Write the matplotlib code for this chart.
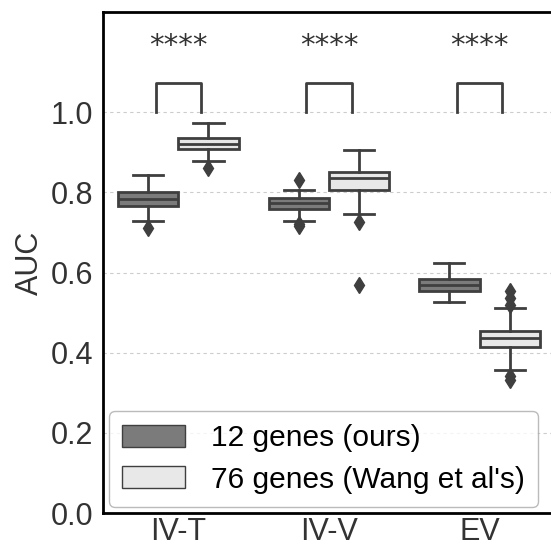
import matplotlib
matplotlib.use("Agg")
import matplotlib.pyplot as plt
from matplotlib.patches import Patch

plt.rcParams['font.family'] = ['Liberation Sans', 'DejaVu Sans']

# data
categories = ["IV-T", "IV-V", "EV"]
series = ["12 genes (ours)", "76 genes (Wang et al's)"]

ours_q1 = [0.766, 0.758, 0.555]
ours_med = [0.783, 0.773, 0.570]
ours_q3 = [0.801, 0.786, 0.584]
ours_lo = [0.728, 0.728, 0.526]
ours_hi = [0.843, 0.805, 0.624]
ours_fliers = [[0.71], [0.832, 0.722, 0.716], []]

wang_q1 = [0.908, 0.805, 0.413]
wang_med = [0.921, 0.835, 0.437]
wang_q3 = [0.935, 0.852, 0.455]
wang_lo = [0.878, 0.745, 0.356]
wang_hi = [0.972, 0.906, 0.512]
wang_fliers = [[0.862], [0.726, 0.57], [0.553, 0.537, 0.52, 0.341, 0.333]]

stars = ["****", "****", "****"]

colors = ["#7b7b7b", "#e8e8e8"]
edge = "#3f3f3f"


def make_stats(q1, med, q3, lo, hi, fl):
    return [dict(q1=a, med=b, q3=c, whislo=d, whishi=e, fliers=f)
            for a, b, c, d, e, f in zip(q1, med, q3, lo, hi, fl)]


fig = plt.figure(figsize=(5.51, 5.46), dpi=100)
ax = fig.add_axes([0.187, 0.0604, 0.82, 0.9176])

ax.set_axisbelow(True)
ax.yaxis.grid(True, linestyle=(0, (3, 3)), color="#cccccc", linewidth=0.8)

all_stats = [make_stats(ours_q1, ours_med, ours_q3, ours_lo, ours_hi, ours_fliers),
             make_stats(wang_q1, wang_med, wang_q3, wang_lo, wang_hi, wang_fliers)]
offsets = [-0.2, 0.2]
for stats, off, col in zip(all_stats, offsets, colors):
    pos = [i + off for i in range(len(categories))]
    ax.bxp(stats, positions=pos, widths=0.4, patch_artist=True, manage_ticks=False,
           boxprops=dict(facecolor=col, edgecolor=edge, linewidth=2),
           medianprops=dict(color=edge, linewidth=2),
           whiskerprops=dict(color=edge, linewidth=2),
           capprops=dict(color=edge, linewidth=2),
           flierprops=dict(marker="d", markerfacecolor=edge, markeredgecolor=edge,
                           markersize=8))

# significance brackets
for i, s in enumerate(stars):
    x1, x2 = i - 0.15, i + 0.15
    ax.plot([x1, x1, x2, x2], [1.0, 1.072, 1.072, 1.0], color="#3f3f3f", lw=2)
    ax.text(i, 1.165, s, ha="center", va="center", fontsize=21,
            family="DejaVu Sans", color="#333333")

ax.set_xlim(-0.5, 2.5)
ax.set_ylim(0, 1.25)
ax.set_xticks(range(len(categories)))
ax.set_xticklabels(categories, fontsize=22)
ax.set_yticks([0.0, 0.2, 0.4, 0.6, 0.8, 1.0])
ax.set_yticklabels(["0.0", "0.2", "0.4", "0.6", "0.8", "1.0"], fontsize=22)
ax.tick_params(colors="#333333", length=0)
ax.tick_params(axis="y", pad=7)
ax.tick_params(axis="x", pad=3)
ax.set_ylabel("AUC", fontsize=22, color="#333333", labelpad=4)
for sp in ax.spines.values():
    sp.set_linewidth(2)
    sp.set_color("black")

handles = [Patch(facecolor=c, edgecolor=edge, linewidth=1) for c in colors]
ax.legend(handles, series, loc="lower left", fontsize=21.5, frameon=True,
          fancybox=True, edgecolor="#aaaaaa", handlelength=2.1, handleheight=0.75,
          handletextpad=0.85, borderaxespad=0.2, labelspacing=0.45,
          borderpad=0.45)

fig.savefig("out.png", dpi=100)
